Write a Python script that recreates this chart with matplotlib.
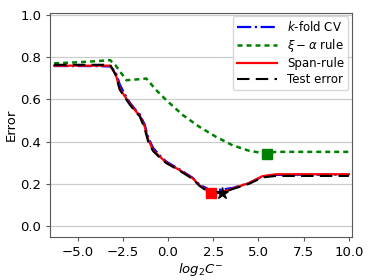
import matplotlib
matplotlib.use('Agg')
import matplotlib.pyplot as plt
import numpy as np

# log2 C- grid and error curves
x = [-6.3, -5.0, -4.0, -3.2, -2.9, -2.67, -2.4, -2.12, -1.75, -1.57, -1.29, -1.1, -0.83, -0.47,
     -0.1, 0.64, 1.37, 1.74, 2.29, 2.9, 3.57, 4.49, 5.22, 5.96, 7.0, 8.5, 10.0]
span = [0.759, 0.759, 0.759, 0.759, 0.72, 0.65, 0.615, 0.58, 0.54, 0.525, 0.47, 0.41, 0.36, 0.33,
        0.30, 0.265, 0.225, 0.193, 0.161, 0.158, 0.177, 0.204, 0.236, 0.245, 0.245, 0.245, 0.245]
kfold = [0.757, 0.757, 0.757, 0.755, 0.73, 0.67, 0.625, 0.585, 0.545, 0.53, 0.48, 0.42, 0.37, 0.335,
         0.305, 0.268, 0.228, 0.196, 0.172, 0.172, 0.18, 0.204, 0.234, 0.242, 0.243, 0.243, 0.243]
test = [0.763, 0.763, 0.763, 0.763, 0.715, 0.645, 0.61, 0.575, 0.535, 0.52, 0.46, 0.40, 0.355, 0.325,
        0.298, 0.262, 0.222, 0.19, 0.158, 0.155, 0.175, 0.2, 0.23, 0.237, 0.237, 0.237, 0.237]
x_xi = [-6.3, -5.0, -4.0, -3.2, -2.9, -2.3, -1.57, -1.2, -0.65, -0.1, 0.82, 1.74, 2.66, 3.57,
        4.49, 5.41, 5.96, 7.0, 8.5, 10.0]
xi = [0.77, 0.775, 0.78, 0.785, 0.76, 0.69, 0.695, 0.698, 0.643, 0.596, 0.525, 0.469, 0.422, 0.382,
      0.356, 0.343, 0.351, 0.351, 0.351, 0.351]

xi_best = (5.5, 0.343)
span_best = (2.4, 0.158)
test_best = (3.0, 0.155)

fig, ax = plt.subplots(figsize=(3.74, 2.8), dpi=100)
ax.plot(x, kfold, '-.', color='blue', lw=1.6, label='$k$-fold CV')
ax.plot(x_xi, xi, color='green', lw=1.8, dashes=(2, 1.6), label=r'$\xi-\alpha$ rule')
ax.plot(x, span, '-', color='red', lw=1.6, label='Span-rule')
ax.plot(x, test, '--', color='black', lw=1.5, dashes=(6, 3), label='Test error')
ax.plot(*xi_best, 's', color='green', ms=7)
ax.plot(*span_best, 's', color='red', ms=7)
ax.plot(*test_best, '*', color='black', ms=9)

ax.set_xlim(-6.5, 10.15)
ax.set_ylim(-0.05, 1.01)
ax.set_xticks([-5, -2.5, 0, 2.5, 5, 7.5, 10])
ax.set_yticks([0, 0.2, 0.4, 0.6, 0.8, 1.0])
ax.yaxis.grid(True, color='#cccccc', lw=0.9)
ax.set_axisbelow(True)
for s in ax.spines.values():
    s.set_color('0.35')
ax.tick_params(labelsize=9.5, color='0.35', length=3)
ax.set_xlabel('$log_2C^{-}$', fontsize=9.5, labelpad=2)
ax.set_ylabel('Error', fontsize=9.5, labelpad=2)
ax.legend(loc='upper right', fontsize=8.5, handlelength=3.4, borderaxespad=0.3,
          labelspacing=0.25, borderpad=0.35)
plt.subplots_adjust(left=0.135, right=0.94, top=0.955, bottom=0.155)
plt.savefig('out.png')
